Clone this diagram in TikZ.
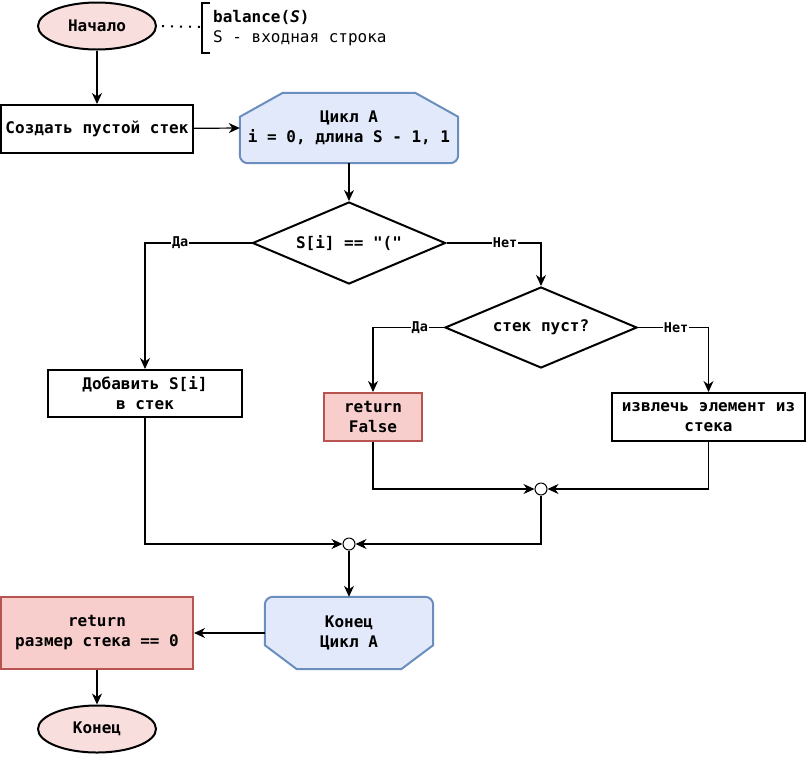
\documentclass[tikz,border=0pt]{standalone}
\usepackage{fontspec}
\setmonofont{DejaVu Sans Mono}
\usepackage{tikz}
\usetikzlibrary{arrows.meta, positioning, calc, shapes.geometric, backgrounds}
\definecolor{TermFill}{RGB}{249, 222, 222}
\definecolor{RetFill}{RGB}{248, 206, 204}
\definecolor{RetLine}{RGB}{184, 84, 80}
\definecolor{LoopFill}{RGB}{225, 233, 250}
\definecolor{LoopLine}{RGB}{108, 142, 191}
\newcommand{\flowfont}{\ttfamily\bfseries\fontsize{16}{20}\selectfont}
\newcommand{\labfont}{\ttfamily\bfseries\fontsize{13.5}{14}\selectfont}
\tikzset{
  term/.style={ellipse, draw, line width=2pt, fill=TermFill, inner sep=0pt,
    minimum width=118pt, minimum height=47pt, font=\flowfont},
  proc/.style={rectangle, draw, line width=2pt, fill=white, inner sep=0pt,
    align=center, font=\flowfont},
  retbox/.style={proc, draw=RetLine, fill=RetFill},
  cond/.style={diamond, draw, line width=2pt, fill=white, inner sep=0pt,
    aspect=2.35, font=\flowfont},
  loopnode/.style={rectangle, inner sep=0pt, align=center, font=\flowfont},
  loopshape/.style={draw=LoopLine, line width=2pt, fill=LoopFill},
  junc/.style={circle, draw, line width=1pt, fill=white, minimum size=12pt, inner sep=0pt},
  conn/.style={draw, line width=1.2pt, -{Stealth[length=11pt, width=10pt, inset=3.5pt]}},
  lbl/.style={fill=white, inner sep=1pt, font=\labfont}
}

\begin{document}
\begin{tikzpicture}[x=1pt, y=-1pt]
  \useasboundingbox (0,0) rectangle (808,756);

  % start and note
  \node[term] (start) at (97,26) {Начало};
  \coordinate (brk) at (202,27);
  \draw[line width=2pt, dash pattern=on 2pt off 7pt, dash phase=-5pt] (start.east) -- (brk);
  \draw[line width=2pt] ($(brk)+(8,-24)$) -- ($(brk)+(0,-24)$) -- ($(brk)+(0,26)$) -- ($(brk)+(8,26)$);
  \node[anchor=west, align=left, inner sep=0pt, font=\ttfamily\fontsize{16}{20}\selectfont] (note) at (213,28)
    {\textbf{balance(\textit{S})}\\S - входная строка};

  \node[proc, minimum width=192pt, minimum height=48pt] (create) at (97,129) {Создать пустой стек};

  % loop begin
  \node[loopnode, minimum width=218pt, minimum height=70pt] (loopA) at (349,128)
    {Цикл A\\i = 0, длина S - 1, 1};
  \begin{pgfonlayer}{background}
    \draw[loopshape] ($(loopA.north west)+(0,24)$) -- ($(loopA.north west)+(43,0)$)
      -- ($(loopA.north east)+(-43,0)$) -- ($(loopA.north east)+(0,24)$)
      {[rounded corners=8pt] -- (loopA.south east) -- (loopA.south west)} -- cycle;
  \end{pgfonlayer}

  \node[cond, minimum width=193pt, minimum height=82pt] (cond1) at (349,243) {S[i] == "("};
  \node[cond, minimum width=192pt, minimum height=81pt] (cond2) at (541,327.5) {стек пуст?};

  \node[proc, minimum width=194pt, minimum height=47pt] (push) at (145,393.5) {Добавить S[i]\\в стек};
  \node[retbox, minimum width=98pt, minimum height=48pt] (retF) at (373,417) {return\\False};
  \node[proc, minimum width=193pt, minimum height=48pt] (pop) at (708.5,417) {извлечь элемент из\\стека};

  \node[junc] (j1) at (541,489) {};
  \node[junc] (j2) at (349,544) {};

  % loop end
  \node[loopnode, minimum width=168pt, minimum height=72pt] (loopEnd) at (349,633) {Конец\\Цикл A};
  \begin{pgfonlayer}{background}
    \draw[loopshape] ($(loopEnd.south west)+(0,-24)$) {[rounded corners=8pt] -- (loopEnd.north west)
      -- (loopEnd.north east)} -- ($(loopEnd.south east)+(0,-24)$)
      -- ($(loopEnd.south east)+(-32,0)$) -- ($(loopEnd.south west)+(32,0)$) -- cycle;
  \end{pgfonlayer}

  \node[retbox, minimum width=192pt, minimum height=72pt] (retSize) at (97,633) {return\\размер стека == 0};
  \node[term] (stop) at (97,729) {Конец};

  % connectors
  \draw[conn] (start) -- (create);
  \draw[conn] (create) -- (loopA.west);
  \draw[conn] (loopA) -- (cond1);
  \draw[conn] (cond1.west) -| node[lbl, pos=0.335] {Да} (push.north);
  \draw[conn] (cond1.east) -| node[lbl, pos=0.31] {Нет} (cond2.north);
  \draw[conn] (cond2.west) -| node[lbl, pos=0.17] {Да} (retF.north);
  \draw[conn] (cond2.east) -| node[lbl, pos=0.27] {Нет} (pop.north);
  \draw[conn] (retF.south) |- (j1.west);
  \draw[conn] (pop.south) |- (j1.east);
  \draw[conn] (push.south) |- (j2.west);
  \draw[conn] (j1.south) |- (j2.east);
  \draw[conn] (j2.south) -- (loopEnd.north);
  \draw[conn] (loopEnd.west) -- (retSize.east);
  \draw[conn] (retSize) -- (stop);
\end{tikzpicture}
\end{document}
